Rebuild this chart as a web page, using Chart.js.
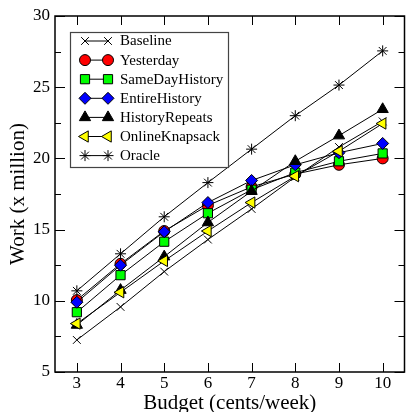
<!DOCTYPE html>
<html>
<head>
<meta charset="utf-8">
<script src="https://cdn.jsdelivr.net/npm/chart.js@4/dist/chart.umd.min.js"></script>
<style>
  html, body { margin: 0; padding: 0; background: #fff; overflow: hidden; }
  canvas { display: block; }
</style>
</head>
<body>
<canvas id="work" width="412" height="412"></canvas>
<script>
// Budget on x, work (millions) on y
const budget = [3, 4, 5, 6, 7, 8, 9, 10];
const xTicks = [3, 4, 5, 6, 7, 8, 9, 10];
const yTicks = [5, 10, 15, 20, 25, 30];

const baseline       = [7.25, 9.57, 12.05, 14.3, 16.45, 18.7, 20.8, 22.6];
const yesterday      = [10.05, 12.6, 14.9, 16.7, 18.0, 18.9, 19.55, 20.0];
const sameDayHistory = [9.2, 11.8, 14.15, 16.15, 17.8, 19.0, 19.8, 20.35];
const entireHistory  = [9.9, 12.5, 14.85, 16.9, 18.45, 19.55, 20.4, 21.05];
const historyRepeats = [8.3, 10.75, 13.1, 15.5, 17.7, 19.8, 21.6, 23.45];
const onlineKnapsack = [8.4, 10.6, 12.8, 14.9, 16.9, 18.75, 20.5, 22.45];
const oracle         = [10.7, 13.3, 15.9, 18.3, 20.65, 23.0, 25.15, 27.55];

const seriesNames = ['Baseline', 'Yesterday', 'SameDayHistory', 'EntireHistory',
                     'HistoryRepeats', 'OnlineKnapsack', 'Oracle'];
const seriesData  = [baseline, yesterday, sameDayHistory, entireHistory,
                     historyRepeats, onlineKnapsack, oracle];

// marker look per series (xmgrace-ish symbols)
const markers = [
  { pointStyle: 'crossRot', radius: 5.5, fill: '#000',    rotation: 0 },
  { pointStyle: 'circle',   radius: 5.5, fill: '#ff0000', rotation: 0 },
  { pointStyle: 'rect',     radius: 6.5, fill: '#00ff00', rotation: 0 },
  { pointStyle: 'rectRot',  radius: 6,   fill: '#0000ff', rotation: 0 },
  { pointStyle: 'triangle', radius: 6.5, fill: '#000',    rotation: 0 },
  { pointStyle: 'triangle', radius: 6.5, fill: '#ffff00', rotation: -90 },
  { pointStyle: 'star',     radius: 5.5, fill: '#000',    rotation: 0 },
];

const SERIF = '"Liberation Serif", "DejaVu Serif", serif';

const datasets = seriesData.map((vals, i) => ({
  label: seriesNames[i],
  data: vals.map((v, j) => ({ x: budget[j], y: v })),
  borderColor: '#000',
  borderWidth: 1,
  pointStyle: markers[i].pointStyle,
  pointRadius: markers[i].radius,
  pointRotation: markers[i].rotation,
  pointBackgroundColor: markers[i].fill,
  pointBorderColor: '#000',
  pointBorderWidth: 1,
  tension: 0,
  fill: false,
  order: seriesData.length - i,   // later series drawn on top
}));

// frame + inward ticks on all four sides
const framePlugin = {
  id: 'frame',
  afterDatasetsDraw(chart) {
    const { ctx, chartArea: a, scales: { x, y } } = chart;
    ctx.save();
    ctx.strokeStyle = '#000';
    ctx.lineWidth = 1.5;
    ctx.strokeRect(a.left, a.top, a.right - a.left, a.bottom - a.top);
    ctx.lineWidth = 1;
    ctx.beginPath();
    xTicks.forEach(v => {
      const px = Math.round(x.getPixelForValue(v)) + 0.5;
      ctx.moveTo(px, a.bottom); ctx.lineTo(px, a.bottom - 9);
      ctx.moveTo(px, a.top);    ctx.lineTo(px, a.top + 9);
    });
    for (let v = 5; v <= 30; v += 2.5) {
      const py = Math.round(y.getPixelForValue(v)) + 0.5;
      const len = (v % 5 === 0) ? 10 : 6;
      ctx.moveTo(a.left, py);  ctx.lineTo(a.left + len, py);
      ctx.moveTo(a.right, py); ctx.lineTo(a.right - len, py);
    }
    ctx.stroke();
    ctx.restore();
  }
};

// legend box drawn inside the plot, top-left
const legendPlugin = {
  id: 'boxLegend',
  afterDraw(chart) {
    const { ctx } = chart;
    const bx = 70, by = 32, bw = 158, bh = 135;
    ctx.save();
    ctx.fillStyle = '#fff';
    ctx.fillRect(bx, by, bw, bh);
    ctx.strokeStyle = '#444';
    ctx.lineWidth = 1.2;
    ctx.strokeRect(bx + 0.5, by + 0.5, bw, bh);
    chart.data.datasets.forEach((ds, i) => {
      const ry = 41 + i * 19.1;
      ctx.strokeStyle = '#000';
      ctx.lineWidth = 1;
      ctx.beginPath();
      ctx.moveTo(85, ry); ctx.lineTo(108, ry);
      ctx.stroke();
      [85, 108].forEach(px => {
        ctx.fillStyle = ds.pointBackgroundColor;
        ctx.strokeStyle = '#000';
        ctx.lineWidth = 1;
        Chart.helpers.drawPoint(ctx, {
          pointStyle: ds.pointStyle,
          rotation: ds.pointRotation,
          radius: ds.pointRadius,
          borderWidth: 1,
        }, px, ry);
      });
      ctx.fillStyle = '#000';
      ctx.font = '15px ' + SERIF;
      ctx.textBaseline = 'middle';
      ctx.textAlign = 'left';
      ctx.fillText(ds.label, 120, ry + 0.5);
    });
    ctx.restore();
  }
};

new Chart(document.getElementById('work'), {
  type: 'line',
  data: { datasets },
  options: {
    responsive: false,
    animation: false,
    devicePixelRatio: 1,
    layout: { padding: { left: 0, top: 16, right: 1, bottom: 0 } },
    plugins: { legend: { display: false }, tooltip: { enabled: false } },
    scales: {
      x: {
        type: 'linear',
        min: 2.5,
        max: 10.5,
        afterBuildTicks: s => { s.ticks = xTicks.map(v => ({ value: v })); },
        afterFit: s => { s.height = 40; },
        grid: { display: false, drawTicks: false },
        border: { display: false },
        ticks: {
          color: '#000',
          padding: 1,
          font: { family: SERIF, size: 17 },
        },
        title: {
          display: true,
          text: 'Budget (cents/week)',
          color: '#000',
          font: { family: SERIF, size: 21, lineHeight: 1 },
          padding: { top: 0, bottom: -2 },
        },
      },
      y: {
        type: 'linear',
        min: 5,
        max: 30,
        afterBuildTicks: s => { s.ticks = yTicks.map(v => ({ value: v })); },
        afterFit: s => { s.width = 55; },
        grid: { display: false, drawTicks: false },
        border: { display: false },
        ticks: {
          color: '#000',
          padding: 5,
          font: { family: SERIF, size: 17 },
        },
        title: {
          display: true,
          text: 'Work (x million)',
          color: '#000',
          font: { family: SERIF, size: 21, lineHeight: 1 },
          padding: { top: 8, bottom: 0 },
        },
      },
    },
  },
  plugins: [framePlugin, legendPlugin],
});
</script>
</body>
</html>
